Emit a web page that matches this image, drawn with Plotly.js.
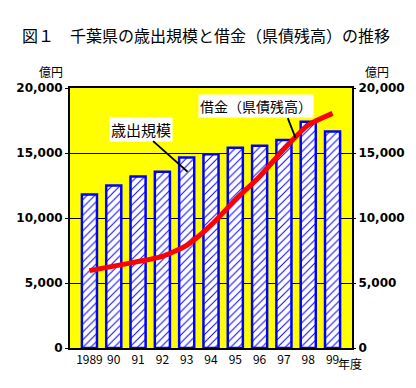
<!DOCTYPE html>
<html>
<head>
<meta charset="utf-8">
<script src="https://cdn.plot.ly/plotly-3.0.1.min.js"></script>
<style>html,body{margin:0;padding:0;background:#fff;}#chart{width:416px;height:388px;}</style>
</head>
<body>
<div id="chart"></div>
<script>
var years = ["1989", "90", "91", "92", "93", "94", "95", "96", "97", "98", "99"];
var spending = [11800, 12500, 13200, 13550, 14650, 14900, 15400, 15550, 16000, 17400, 16650];
var debt = [5950, 6300, 6650, 7050, 7900, 9450, 11400, 13200, 15300, 17150, 18050];
var yTicks = [0, 5000, 10000, 15000, 20000];

var xIdx = years.map(function(_, i){ return i; });

var bars = {
  type: 'bar', x: xIdx, y: spending, width: 0.62,
  marker: {
    color: '#ffffff',
    line: {color: '#0000ff', width: 2.5},
    pattern: {shape: '/', fgcolor: '#0000ff', bgcolor: '#ffffff', size: 5.5, solidity: 0.18}
  },
  hoverinfo: 'skip', showlegend: false
};
var line = {
  type: 'scatter', mode: 'lines', x: xIdx, y: debt, yaxis: 'y2',
  line: {color: '#ff0000', width: 5, shape: 'spline', smoothing: 0.6},
  hoverinfo: 'skip', showlegend: false
};

var tickFont = {family: 'DejaVu Sans', size: 12, color: '#000', weight: 'bold'};
var cjk = 'Noto Sans CJK JP';

function note(x, y, text, size, extra) {
  var a = {xref: 'paper', yref: 'paper', x: x, y: y, text: text, showarrow: false,
           xanchor: 'center', yanchor: 'middle', font: {family: cjk, size: size, color: '#000'}};
  if (extra) for (var k in extra) a[k] = extra[k];
  return a;
}
function pointer(x, y, ax, ay) {
  return {xref: 'paper', yref: 'paper', x: x, y: y, text: ' ', showarrow: true, arrowhead: 0,
          arrowwidth: 1.8, arrowcolor: '#000', ax: ax, ay: ay, font: {size: 2}};
}

var layout = {
  width: 416, height: 388,
  margin: {l: 70, r: 64, t: 88, b: 40, pad: 0},
  paper_bgcolor: '#ffffff', plot_bgcolor: '#ffff00',
  font: {family: cjk, color: '#000'},
  title: {text: '図１　千葉県の歳出規模と借金（県債残高）の推移', font: {family: cjk, size: 16, color: '#000'},
          x: 22/416, xanchor: 'left', y: 1 - 36/388, yanchor: 'middle'},
  xaxis: {
    range: [-0.8, 10.8], tickvals: xIdx, ticktext: years, ticks: '',
    showline: true, linecolor: '#000', linewidth: 2, mirror: true,
    showgrid: false, zeroline: false,
    tickfont: {family: cjk, size: 12, color: '#000'}, fixedrange: true
  },
  yaxis: {
    range: [0, 20000], tickvals: yTicks, tickformat: ',', ticks: 'outside', ticklen: 3, tickcolor: '#000',
    showline: true, linecolor: '#000', linewidth: 2, mirror: true,
    showgrid: true, gridcolor: '#000', gridwidth: 1, zeroline: false,
    tickfont: tickFont, fixedrange: true
  },
  yaxis2: {
    overlaying: 'y', side: 'right', range: [0, 20000], tickvals: yTicks, tickformat: ',',
    ticks: 'outside', ticklen: 3, tickcolor: '#000',
    showline: false, showgrid: false, zeroline: false,
    tickfont: tickFont, fixedrange: true
  },
  annotations: [
    note(-0.067, 1.062, '億円', 12),
    note(1.089, 1.062, '億円', 12),
    note(0.993, -0.058, '年度', 12),
    note(0.25, 0.842, '歳出規模', 15, {bgcolor: '#ffffff', borderpad: 1}),
    note(0.66, 0.931, '借金（県債残高）', 14, {bgcolor: '#ffffff', borderpad: 1}),
    pointer(0.417, 0.678, -36, -32),
    pointer(0.800, 0.807, -9, -23)
  ]
};

Plotly.newPlot('chart', [bars, line], layout, {staticPlot: true, displayModeBar: false});
</script>
</body>
</html>
